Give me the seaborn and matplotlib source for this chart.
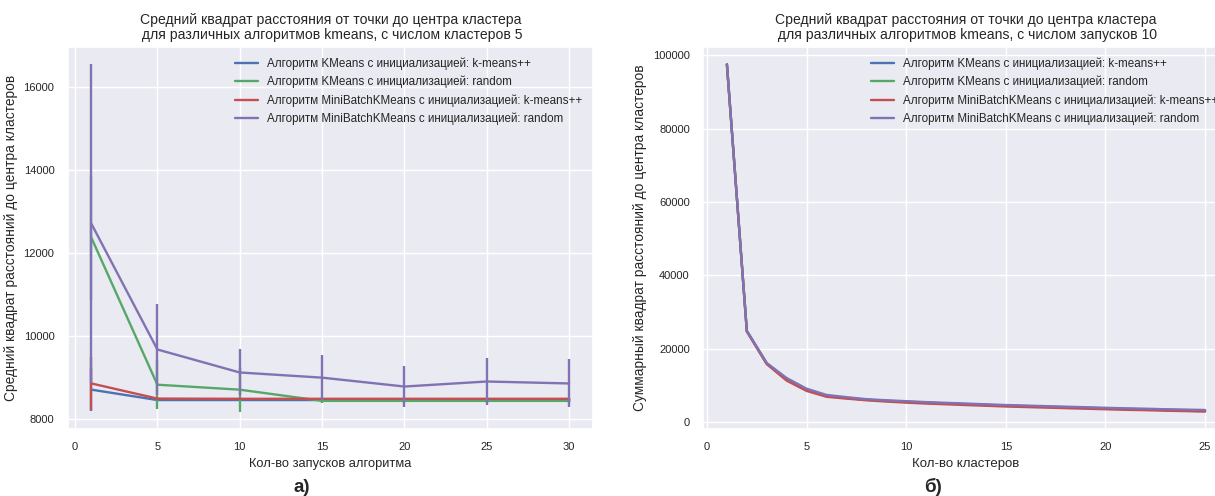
import numpy as np
import pandas as pd
import seaborn as sns
import matplotlib
matplotlib.use('Agg')
import matplotlib.pyplot as plt

# Settings
sns.set_theme(style="darkgrid")
plt.rcParams['font.family'] = ['Liberation Sans', 'DejaVu Sans']
colors = sns.color_palette("deep6")[:4]

labels = [
    'Алгоритм KMeans с инициализацией: k-means++',
    'Алгоритм KMeans с инициализацией: random',
    'Алгоритм MiniBatchKMeans с инициализацией: k-means++',
    'Алгоритм MiniBatchKMeans с инициализацией: random',
]

# a) by number of runs, 5 clusters
n_init = [1, 5, 10, 15, 20, 25, 30]
km_pp_mean = [8700, 8450, 8450, 8450, 8450, 8450, 8450]
km_pp_err = [520, 20, 20, 20, 20, 20, 20]
km_rnd_mean = [12360, 8820, 8700, 8430, 8430, 8430, 8430]
km_rnd_err = [1500, 584, 530, 40, 40, 40, 40]
mb_pp_mean = [8850, 8485, 8480, 8480, 8480, 8480, 8480]
mb_pp_err = [650, 30, 30, 30, 30, 30, 30]
mb_rnd_mean = [12700, 9670, 9115, 8990, 8776, 8897, 8850]
mb_rnd_err = [3850, 1090, 555, 537, 484, 558, 580]

# b) by number of clusters, 10 runs
n_clusters = list(range(1, 26))
km_pp_inertia = [97500, 24800, 16000, 11700, 8900, 7200, 6600, 6100, 5800, 5550,
                 5300, 5100, 4900, 4700, 4500, 4350, 4200, 4050, 3900, 3750,
                 3600, 3500, 3350, 3250, 3150]
km_rnd_inertia = [97500, 24800, 15900, 11600, 8800, 7100, 6550, 6050, 5750, 5500,
                  5250, 5050, 4850, 4650, 4450, 4300, 4150, 4000, 3850, 3700,
                  3550, 3450, 3300, 3200, 3100]
mb_pp_inertia = [97500, 24700, 15800, 11300, 8500, 6900, 6400, 5950, 5600, 5300,
                 5050, 4850, 4650, 4450, 4250, 4100, 3950, 3800, 3650, 3500,
                 3350, 3250, 3100, 3000, 2850]
mb_rnd_inertia = [97500, 24900, 16100, 12000, 9100, 7400, 6800, 6250, 5950, 5700,
                  5450, 5250, 5050, 4850, 4650, 4500, 4350, 4200, 4050, 3900,
                  3750, 3650, 3500, 3400, 3300]
km_pp_ierr = [0, 0, 0, 0, 0, 500, 350, 0, 0, 0, 0, 0, 0, 0, 0, 0, 0, 0, 0, 0, 0, 0, 0, 0, 0]
mb_rnd_ierr = [0, 0, 0, 300, 300, 300, 300, 0, 0, 0, 0, 0, 0, 0, 0, 0, 0, 0, 0, 0, 0, 0, 0, 0, 0]

series_a = [(km_pp_mean, km_pp_err), (km_rnd_mean, km_rnd_err),
            (mb_pp_mean, mb_pp_err), (mb_rnd_mean, mb_rnd_err)]
series_b = [(km_pp_inertia, km_pp_ierr), (km_rnd_inertia, None),
            (mb_pp_inertia, None), (mb_rnd_inertia, mb_rnd_ierr)]

fig = plt.figure(figsize=(12.15, 4.96), dpi=100)
ax1 = fig.add_axes([67.6 / 1215, 67 / 496, 525.4 / 1215, 382 / 496])
ax2 = fig.add_axes([703 / 1215, 67 / 496, 526 / 1215, 382 / 496])

for (mean, err), lab, c in zip(series_a, labels, colors):
    df = pd.DataFrame({'x': n_init, 'y': mean})
    sns.lineplot(data=df, x='x', y='y', ax=ax1, color=c, linewidth=1.7, label=lab)
    ax1.errorbar(n_init, mean, yerr=err, fmt='none', ecolor=c, elinewidth=1.7, capsize=0)

for (vals, err), lab, c in zip(series_b, labels, colors):
    df = pd.DataFrame({'x': n_clusters, 'y': vals})
    sns.lineplot(data=df, x='x', y='y', ax=ax2, color=c, linewidth=1.7, label=lab)
    if err is not None:
        ax2.errorbar(n_clusters, vals, yerr=err, fmt='none', ecolor=c, elinewidth=1.2, capsize=0)

ax1.set_title('Средний квадрат расстояния от точки до центра кластера\n'
              ' для различных алгоритмов kmeans, с числом кластеров 5',
              fontsize=10.1, linespacing=1.1)
ax1.set_xlabel('Кол-во запусков алгоритма', fontsize=9.3)
ax1.set_ylabel('Средний квадрат расстояний до центра кластеров', fontsize=9.9)
ax1.set_xticks([0, 5, 10, 15, 20, 25, 30])
ax1.set_yticks([8000, 10000, 12000, 14000, 16000])

ax2.set_title('Средний квадрат расстояния от точки до центра кластера\n'
              ' для различных алгоритмов kmeans, с числом запусков 10',
              fontsize=10.1, linespacing=1.1)
ax2.set_xlabel('Кол-во кластеров', fontsize=9.5)
ax2.set_ylabel('Суммарный квадрат расстояний до центра кластеров', fontsize=9.9)
ax2.set_xticks([0, 5, 10, 15, 20, 25])
ax2.set_yticks([0, 20000, 40000, 60000, 80000, 100000])

for ax in (ax1, ax2):
    ax.tick_params(labelsize=8)
    ax.legend(loc='upper right', fontsize=8.4, frameon=False)

fig.text(302 / 1215, 9 / 496, 'а)', fontsize=13.5, fontweight='bold', ha='center', va='center')
fig.text(933 / 1215, 9 / 496, 'б)', fontsize=13.5, fontweight='bold', ha='center', va='center')

plt.savefig('out.png', dpi=100)
plt.close()
